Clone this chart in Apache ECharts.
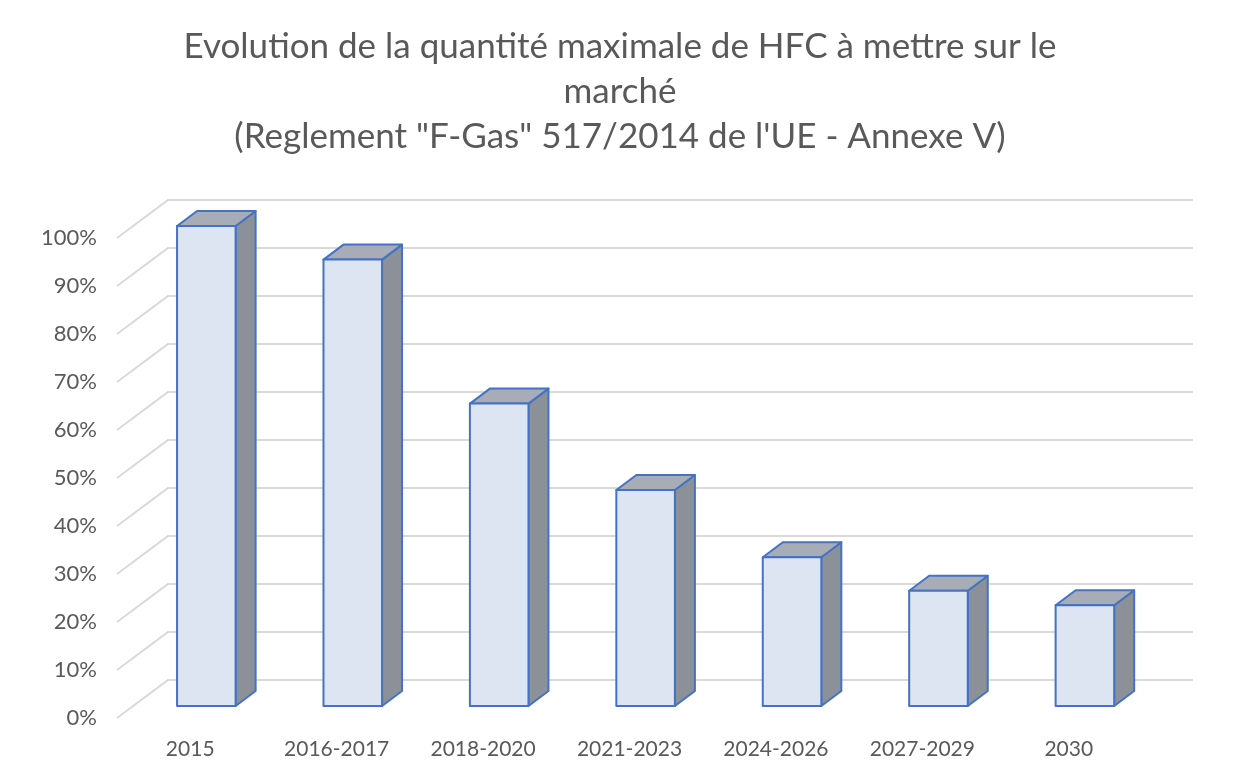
<!DOCTYPE html>
<html>
<head>
<meta charset="utf-8">
<title>HFC</title>
<script src="https://cdn.jsdelivr.net/npm/echarts@6/dist/echarts.min.js"></script>
<style>
  html, body { margin: 0; padding: 0; background: #fff; }
  #chart { width: 1240px; height: 780px; }
</style>
</head>
<body>
<div id="chart"></div>
<script>
const categories = ['2015', '2016-2017', '2018-2020', '2021-2023', '2024-2026', '2027-2029', '2030']
const quotaValues = [100, 93, 63, 45, 31, 24, 21]
const tickValues = [0, 10, 20, 30, 40, 50, 60, 70, 80, 90, 100]

// depth of the 3D floor in pixels (front plane -> back wall)
const DEPTH_X = 51
const DEPTH_Y = 38
const BAR_FRONT = 0.316
const BAR_DX = 20
const BAR_DY = 15

const TEXT_COLOR = '#595959'
const FONT = 'Lato, "Open Sans", sans-serif'

const chart = echarts.init(document.getElementById('chart'))

const renderWall = (params, api) => {
  const cs = params.coordSys
  const y = api.coord([0, api.value(1)])[1]
  const x0 = cs.x
  const x1 = cs.x + cs.width
  return {
    type: 'polyline',
    shape: {
      points: [[x0, y], [x0 + DEPTH_X, y - DEPTH_Y], [x1 + DEPTH_X, y - DEPTH_Y]]
    },
    style: { stroke: '#d9d9d9', lineWidth: 2, fill: null }
  }
}

const renderBar = (params, api) => {
  const idx = api.value(0)
  const top = api.coord([idx, api.value(1)])
  const base = api.coord([idx, 0])
  const band = api.size([1, 0])[0]
  const w = band * 0.4
  const ox = DEPTH_X * BAR_FRONT
  const oy = DEPTH_Y * BAR_FRONT
  const x0 = top[0] - w / 2 + ox
  const x1 = x0 + w
  const y0 = top[1] - oy
  const y1 = base[1] - oy
  const edge = { stroke: '#4472c4', lineWidth: 2, lineJoin: 'round' }
  return {
    type: 'group',
    children: [
      {
        type: 'polygon',
        shape: { points: [[x1, y0], [x1, y1], [x1 + BAR_DX, y1 - BAR_DY], [x1 + BAR_DX, y0 - BAR_DY]] },
        style: Object.assign({ fill: '#8c9199' }, edge)
      },
      {
        type: 'polygon',
        shape: { points: [[x0, y0], [x1, y0], [x1 + BAR_DX, y0 - BAR_DY], [x0 + BAR_DX, y0 - BAR_DY]] },
        style: Object.assign({ fill: '#a7acb6' }, edge)
      },
      {
        type: 'rect',
        shape: { x: x0, y: y0, width: w, height: y1 - y0 },
        style: Object.assign({ fill: '#dde4f2' }, edge)
      }
    ]
  }
}

chart.setOption({
  animation: false,
  title: {
    text: 'Evolution de la quantité maximale de HFC à mettre sur le\nmarché\n(Reglement "F-Gas" 517/2014 de l\'UE - Annexe V)',
    left: 'center',
    top: 19,
    textStyle: {
      color: TEXT_COLOR,
      fontFamily: FONT,
      fontWeight: 'normal',
      fontSize: 35,
      lineHeight: 45
    }
  },
  grid: {
    left: 117,
    right: 98,
    top: 238,
    bottom: 62
  },
  xAxis: {
    type: 'category',
    data: categories,
    axisLine: { show: false },
    axisTick: { show: false },
    axisLabel: {
      color: TEXT_COLOR,
      fontFamily: FONT,
      fontSize: 21,
      margin: 21
    }
  },
  yAxis: {
    type: 'value',
    min: 0,
    max: 100,
    interval: 10,
    splitLine: { show: false },
    axisLine: { show: false },
    axisTick: { show: false },
    axisLabel: {
      color: TEXT_COLOR,
      fontFamily: FONT,
      fontSize: 22,
      margin: 20,
      formatter: '{value}%'
    }
  },
  series: [
    {
      type: 'custom',
      renderItem: renderWall,
      data: tickValues.map((v) => [0, v]),
      silent: true,
      z: 1
    },
    {
      type: 'custom',
      renderItem: renderBar,
      data: quotaValues.map((v, i) => [i, v]),
      z: 2
    }
  ]
})
</script>
</body>
</html>
